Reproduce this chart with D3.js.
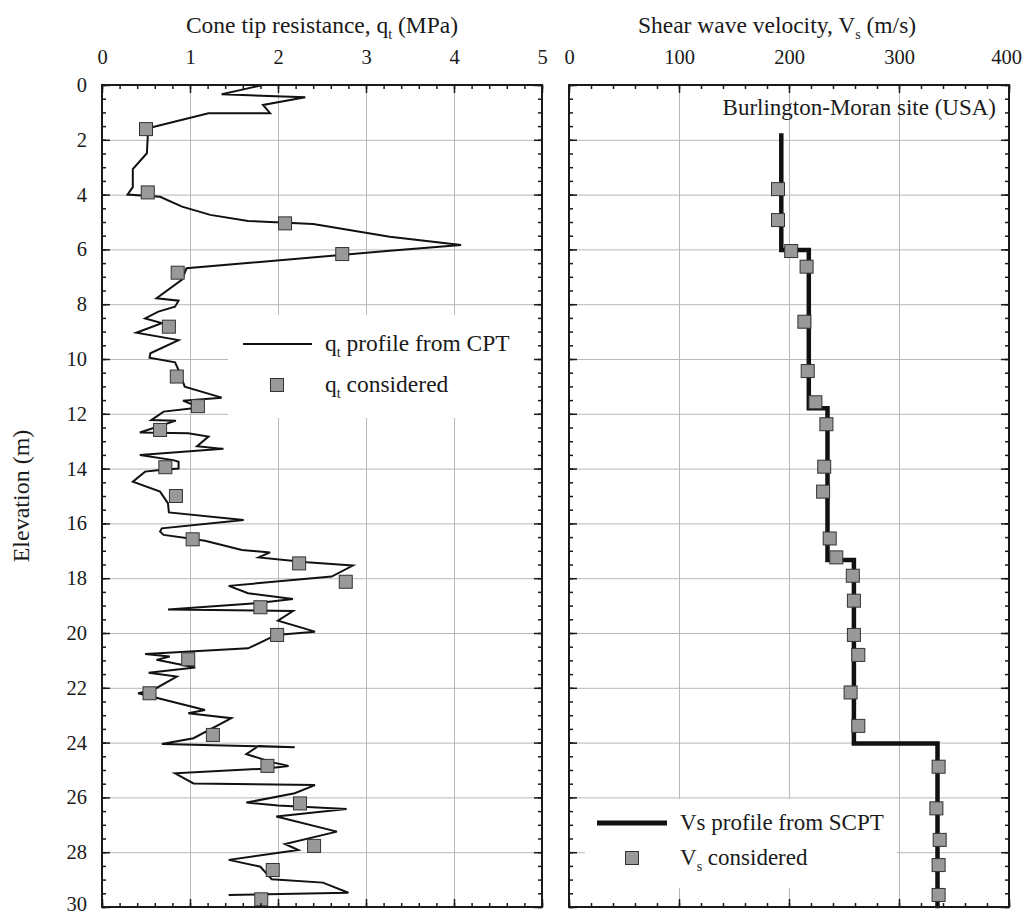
<!DOCTYPE html>
<meta charset="utf-8">
<style>
body { margin: 0; background: #fff; }
svg, svg text { font-family: "Liberation Serif", "DejaVu Serif", serif !important; fill: #1a1a1a; }
.grid line { stroke: #b8b8b8; stroke-width: 1; }
.grid path, .axis path.domain { display: none; }
.axis line { stroke: #1a1a1a; stroke-width: 1.5; }
.frame { fill: none; stroke: #1a1a1a; stroke-width: 2; }
.square { fill: #999; stroke: #333; stroke-width: 1; }
</style>
<svg width="1023" height="916"></svg>
<script src="https://d3js.org/d3.v7.min.js"></script>
<script>

// cone tip resistance profile from CPT (depth m, qt MPa)
var qtDepth = [0.00, 0.15, 0.34, 0.45, 0.73, 1.03, 1.03, 1.60, 1.88, 2.49, 3.07, 3.73, 4.00, 4.08, 4.44, 4.74, 4.96, 5.07, 5.54, 5.84,
  6.05, 6.69, 7.10, 7.78, 7.87, 8.09, 8.27, 8.52, 8.69, 9.04, 9.31, 9.79, 9.95, 10.12, 10.40, 11.01, 11.41, 11.52, 11.77, 11.92,
  12.23, 12.25, 12.68, 12.71, 12.83, 13.18, 13.28, 13.50, 13.69, 13.75, 14.00, 14.05, 14.11, 14.48, 14.84, 15.27, 15.60, 15.88, 16.18, 16.30,
  16.42, 16.57, 16.63, 16.97, 17.06, 17.24, 17.42, 17.54, 17.94, 18.28, 18.55, 18.76, 18.90, 19.14, 19.20, 19.55, 19.95, 20.07, 20.56, 20.77,
  20.86, 20.98, 21.26, 21.45, 21.59, 22.08, 22.20, 22.38, 22.81, 22.93, 23.11, 23.84, 24.05, 24.17, 24.12, 24.42, 24.73, 24.85, 24.95, 25.12,
  25.49, 25.55, 25.85, 26.19, 26.30, 26.42, 26.70, 27.25, 27.70, 27.92, 28.28, 28.53, 28.99, 29.11, 29.48, 29.56];
var qtValue = [1.83, 1.62, 1.36, 2.31, 1.83, 1.91, 1.21, 0.50, 0.52, 0.51, 0.35, 0.35, 0.29, 0.66, 0.91, 1.23, 1.66, 2.40, 3.27, 4.08,
  3.27, 0.96, 0.91, 0.62, 0.87, 0.83, 0.64, 0.49, 0.68, 0.39, 0.87, 0.55, 0.54, 0.83, 0.87, 0.94, 1.36, 0.92, 1.11, 0.70,
  0.56, 0.84, 0.43, 0.98, 1.21, 1.08, 1.38, 0.43, 0.81, 0.87, 0.87, 0.66, 0.49, 0.35, 0.66, 0.75, 0.76, 1.61, 0.68, 0.66,
  0.70, 1.04, 1.17, 1.59, 1.91, 1.78, 2.33, 2.85, 2.61, 1.44, 1.66, 2.17, 1.80, 0.75, 2.17, 2.00, 2.42, 1.98, 1.66, 0.49,
  0.77, 0.62, 1.06, 0.53, 0.85, 0.58, 0.41, 0.64, 1.17, 0.98, 1.47, 1.04, 0.68, 2.19, 1.78, 1.64, 1.95, 2.12, 1.85, 0.83,
  1.04, 2.42, 2.19, 1.64, 2.00, 2.78, 1.98, 2.67, 2.08, 2.23, 1.44, 1.80, 1.93, 2.51, 2.80, 1.44];

// qt considered
var qtPointDepth = [1.61, 3.92, 5.05, 6.17, 6.85, 8.82, 10.64, 11.72, 12.59, 13.95, 15.00, 16.58, 17.46, 18.13, 19.06, 20.07, 20.96, 22.20, 23.72, 24.85, 26.22, 27.77, 28.65, 29.72];
var qtPointValue = [0.50, 0.52, 2.08, 2.73, 0.86, 0.76, 0.85, 1.09, 0.66, 0.72, 0.84, 1.03, 2.24, 2.77, 1.80, 1.99, 0.98, 0.54, 1.26, 1.88, 2.25, 2.41, 1.94, 1.81];

// Vs profile from SCPT (layers)
var vsLayerTop = [1.76, 6.02, 11.80, 17.34, 24.03];
var vsLayerBottom = [6.02, 11.80, 17.34, 24.03, 30.05];
var vsLayerValue = [193, 218, 235, 259, 335];

// Vs considered
var vsPointDepth = [3.80, 4.93, 6.06, 6.63, 8.64, 10.44, 11.58, 12.38, 13.93, 14.84, 16.55, 17.24, 17.91, 18.82, 20.07, 20.80, 22.17, 23.39, 24.88, 26.40, 27.55, 28.47, 29.56];
var vsPointValue = [190, 190, 202, 216, 214, 217, 224, 234, 232, 231, 237, 243, 258, 259, 259, 263, 256, 263, 336, 334, 337, 336, 336];

var qtTicks = [0, 1, 2, 3, 4, 5];
var vsTicks = [0, 100, 200, 300, 400];
var depthTicks = d3.range(0, 31, 2);

var FONT = "'Liberation Serif', 'DejaVu Serif', serif";
var svg = d3.select("svg");

var y = d3.scaleLinear().domain([0, 30]).range([85, 907]);
var xq = d3.scaleLinear().domain([0, 5]).range([102, 542]);
var xv = d3.scaleLinear().domain([0, 400]).range([569, 1009]);

function grid(x, ticks) {
  var h = y(30) - y(0);
  var w = x.range()[1] - x.range()[0];
  svg.append("g").attr("class", "grid")
      .attr("transform", "translate(0," + y(30) + ")")
      .call(d3.axisBottom(x).tickValues(ticks.slice(1, -1)).tickSize(-h).tickFormat(""));
  svg.append("g").attr("class", "grid")
      .attr("transform", "translate(" + x.range()[0] + ",0)")
      .call(d3.axisLeft(y).tickValues(depthTicks.slice(1, -1)).tickSize(-w).tickFormat(""));
}

function axisG(tx, ty, axis) {
  var g = svg.append("g").attr("class", "axis")
      .attr("transform", "translate(" + tx + "," + ty + ")")
      .call(axis);
  g.attr("font-family", FONT).attr("font-size", 20.5);
  g.selectAll("text").style("font-family", FONT).style("font-size", "20.5px").attr("fill", "#1a1a1a");
  return g;
}

function frame(x, ticks, minorStep, depthLabels) {
  var x0 = x.range()[0], x1 = x.range()[1];
  var minor = d3.range(x.domain()[0], x.domain()[1] + minorStep / 2, minorStep);
  var minorY = d3.range(0, 30.01, 0.5);

  axisG(0, y(0), d3.axisTop(x).tickValues(minor).tickSize(-4).tickFormat(""));
  var topAxis = axisG(0, y(0), d3.axisTop(x).tickValues(ticks).tickSize(-8).tickPadding(21).tickFormat(d3.format("d")));
  // keep the last label inside the page
  topAxis.selectAll(".tick:last-of-type text").attr("dx", x1 > 1000 ? -3 : 0);
  axisG(0, y(30), d3.axisBottom(x).tickValues(minor).tickSize(-4).tickFormat(""));
  axisG(0, y(30), d3.axisBottom(x).tickValues(ticks).tickSize(-8).tickFormat(""));

  axisG(x0, 0, d3.axisLeft(y).tickValues(minorY).tickSize(-4).tickFormat(""));
  var left = d3.axisLeft(y).tickValues(depthTicks).tickSize(-8).tickPadding(15)
      .tickFormat(depthLabels ? d3.format("d") : "");
  var leftG = axisG(x0, 0, left);
  leftG.selectAll(".tick:last-of-type text").attr("y", -3);
  axisG(x1, 0, d3.axisRight(y).tickValues(minorY).tickSize(-4).tickFormat(""));
  axisG(x1, 0, d3.axisRight(y).tickValues(depthTicks).tickSize(-8).tickFormat(""));

  svg.append("rect").attr("class", "frame")
      .attr("x", x0).attr("y", y(0))
      .attr("width", x1 - x0).attr("height", y(30) - y(0));
}

function subText(g, x, yy, main, sub, rest, size) {
  var t = g.append("text").attr("x", x).attr("y", yy)
      .style("font-family", FONT).style("font-size", size + "px");
  t.append("tspan").text(main);
  t.append("tspan").attr("dy", size * 0.25).style("font-size", Math.round(size * 0.6) + "px").text(sub);
  t.append("tspan").attr("dy", -size * 0.25).text(rest);
  return t;
}

function squares(g, x, vals, depths) {
  g.selectAll("rect.square").data(vals).enter().append("rect")
      .attr("class", "square")
      .attr("x", function(d) { return x(d) - 6.5; })
      .attr("y", function(d, i) { return y(depths[i]) - 6.5; })
      .attr("width", 13).attr("height", 13);
}

// ---------- left panel ----------
grid(xq, qtTicks);

// legend background hides the grid
svg.append("rect").attr("x", 228).attr("y", 315).attr("width", 312).attr("height", 103).attr("fill", "#fff");

var qtLine = d3.line()
    .x(function(d) { return xq(qtValue[d]); })
    .y(function(d) { return y(qtDepth[d]); });
svg.append("path")
    .attr("d", qtLine(d3.range(qtDepth.length)))
    .attr("fill", "none").attr("stroke", "#111").attr("stroke-width", 2)
    .attr("stroke-linejoin", "miter");

var gq = svg.append("g");
squares(gq, xq, qtPointValue, qtPointDepth);

frame(xq, qtTicks, 0.2, true);

var legL = svg.append("g");
legL.append("line").attr("x1", 243).attr("x2", 312).attr("y1", 344).attr("y2", 344)
    .attr("stroke", "#111").attr("stroke-width", 2);
subText(legL, 325, 351, "q", "t", " profile from CPT", 23.5);
legL.append("rect").attr("class", "square").attr("x", 270.5).attr("y", 378.5).attr("width", 13).attr("height", 13);
subText(legL, 325, 392, "q", "t", " considered", 23.5);

subText(svg, 322, 33, "Cone tip resistance, q", "t", " (MPa)", 23.5).attr("text-anchor", "middle");

svg.append("text")
    .attr("transform", "translate(29," + ((y(0) + y(30)) / 2) + ") rotate(-90)")
    .attr("text-anchor", "middle")
    .style("font-family", FONT)
    .style("font-size", "24px")
    .text("Elevation (m)");

// ---------- right panel ----------
grid(xv, vsTicks);

svg.append("rect").attr("x", 585).attr("y", 799).attr("width", 312).attr("height", 89).attr("fill", "#fff");

var steps = [];
vsLayerValue.forEach(function(v, i) {
  steps.push([v, vsLayerTop[i]]);
  steps.push([v, vsLayerBottom[i]]);
});
var vsLine = d3.line()
    .x(function(d) { return xv(d[0]); })
    .y(function(d) { return y(d[1]); });
svg.append("path")
    .attr("d", vsLine(steps))
    .attr("fill", "none").attr("stroke", "#111").attr("stroke-width", 4.5)
    .attr("stroke-linejoin", "miter");

var gv = svg.append("g");
squares(gv, xv, vsPointValue, vsPointDepth);

frame(xv, vsTicks, 20, false);

svg.append("text").attr("x", 996).attr("y", 115).attr("text-anchor", "end")
    .style("font-family", FONT).style("font-size", "23px").text("Burlington-Moran site (USA)");

var legR = svg.append("g");
legR.append("line").attr("x1", 597).attr("x2", 667).attr("y1", 823).attr("y2", 823)
    .attr("stroke", "#111").attr("stroke-width", 5);
legR.append("text").attr("x", 680).attr("y", 830)
    .style("font-family", FONT).style("font-size", "23px").text("Vs profile from SCPT");
legR.append("rect").attr("class", "square").attr("x", 625.5).attr("y", 851.5).attr("width", 13).attr("height", 13);
subText(legR, 680, 865, "V", "s", " considered", 23);

subText(svg, 777, 33, "Shear wave velocity, V", "s", " (m/s)", 23.5).attr("text-anchor", "middle");

</script>
